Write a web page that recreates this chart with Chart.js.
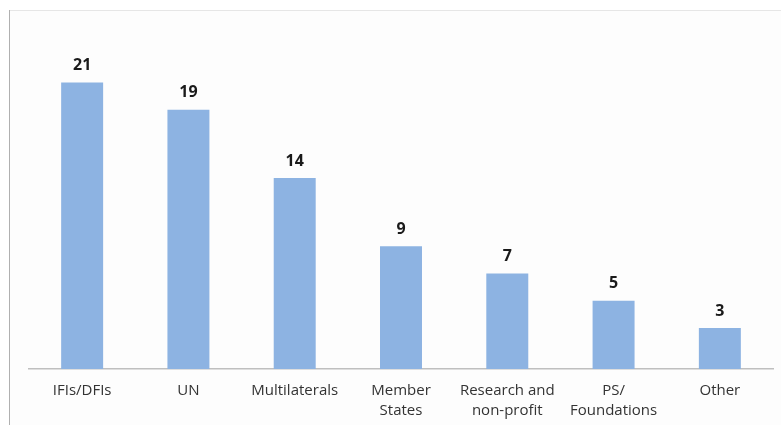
<!DOCTYPE html>
<html lang="en">
<head>
  <meta charset="UTF-8">
  <title>Partners by Type</title>
  <script src="https://cdn.jsdelivr.net/npm/chart.js"></script>
  <style>
    html, body { margin: 0; padding: 0; background: #fff; }
    #wrap { width: 781px; height: 425px; }
  </style>
</head>
<body>
  <div id="wrap"><canvas id="myChart" width="781" height="425"></canvas></div>

  <script>
    // categories and counts
    var categories = ['IFIs/DFIs', 'UN', 'Multilaterals', ['Member', 'States'], ['Research and', 'non-profit'], ['PS/', 'Foundations'], 'Other'];
    var counts = [21, 19, 14, 9, 7, 5, 3];

    var labelFont = '"Open Sans", "Liberation Sans", sans-serif';

    // light frame around the chart (top + left edge)
    var framePlugin = {
      id: 'frame',
      beforeDraw: function(chart) {
        var ctx = chart.ctx;
        ctx.save();
        ctx.fillStyle = '#fdfdfd';
        ctx.fillRect(10, 10, chart.width - 10, chart.height - 10);
        ctx.strokeStyle = '#e6e6e6';
        ctx.lineWidth = 1;
        ctx.beginPath();
        ctx.moveTo(9, 10.5);
        ctx.lineTo(chart.width, 10.5);
        ctx.stroke();
        ctx.strokeStyle = '#b0b0b0';
        ctx.beginPath();
        ctx.moveTo(9.5, 10);
        ctx.lineTo(9.5, chart.height);
        ctx.stroke();
        ctx.restore();
      }
    };

    // value labels above each bar
    var valuePlugin = {
      id: 'values',
      afterDatasetsDraw: function(chart) {
        var ctx = chart.ctx;
        var meta = chart.getDatasetMeta(0);
        ctx.save();
        ctx.font = 'bold 16px ' + labelFont;
        ctx.fillStyle = '#1a1a1a';
        ctx.textAlign = 'center';
        ctx.textBaseline = 'bottom';
        meta.data.forEach(function(bar, i) {
          ctx.fillText(counts[i], bar.x, bar.y - 9);
        });
        ctx.restore();
      }
    };

    var ctx = document.getElementById('myChart').getContext('2d');
    var myChart = new Chart(ctx, {
      type: 'bar',
      data: {
        labels: categories,
        datasets: [{
          data: counts,
          backgroundColor: '#8db3e2',
          categoryPercentage: 1,
          barPercentage: 0.395
        }]
      },
      options: {
        responsive: false,
        animation: false,
        layout: { padding: { left: 29, right: 8, top: 28, bottom: 0 } },
        plugins: {
          legend: { display: false },
          tooltip: { enabled: false }
        },
        scales: {
          y: {
            display: false,
            min: 0,
            max: 25
          },
          x: {
            grid: { display: false, drawTicks: false },
            border: { display: true, color: '#bfbfbf', width: 1.5 },
            ticks: {
              color: '#333333',
              padding: 12,
              maxRotation: 0,
              autoSkip: false,
              font: { family: labelFont, size: 15, lineHeight: 1.33 }
            },
            afterFit: function(scale) { scale.height = 56; }
          }
        }
      },
      plugins: [framePlugin, valuePlugin]
    });
  </script>
</body>
</html>
